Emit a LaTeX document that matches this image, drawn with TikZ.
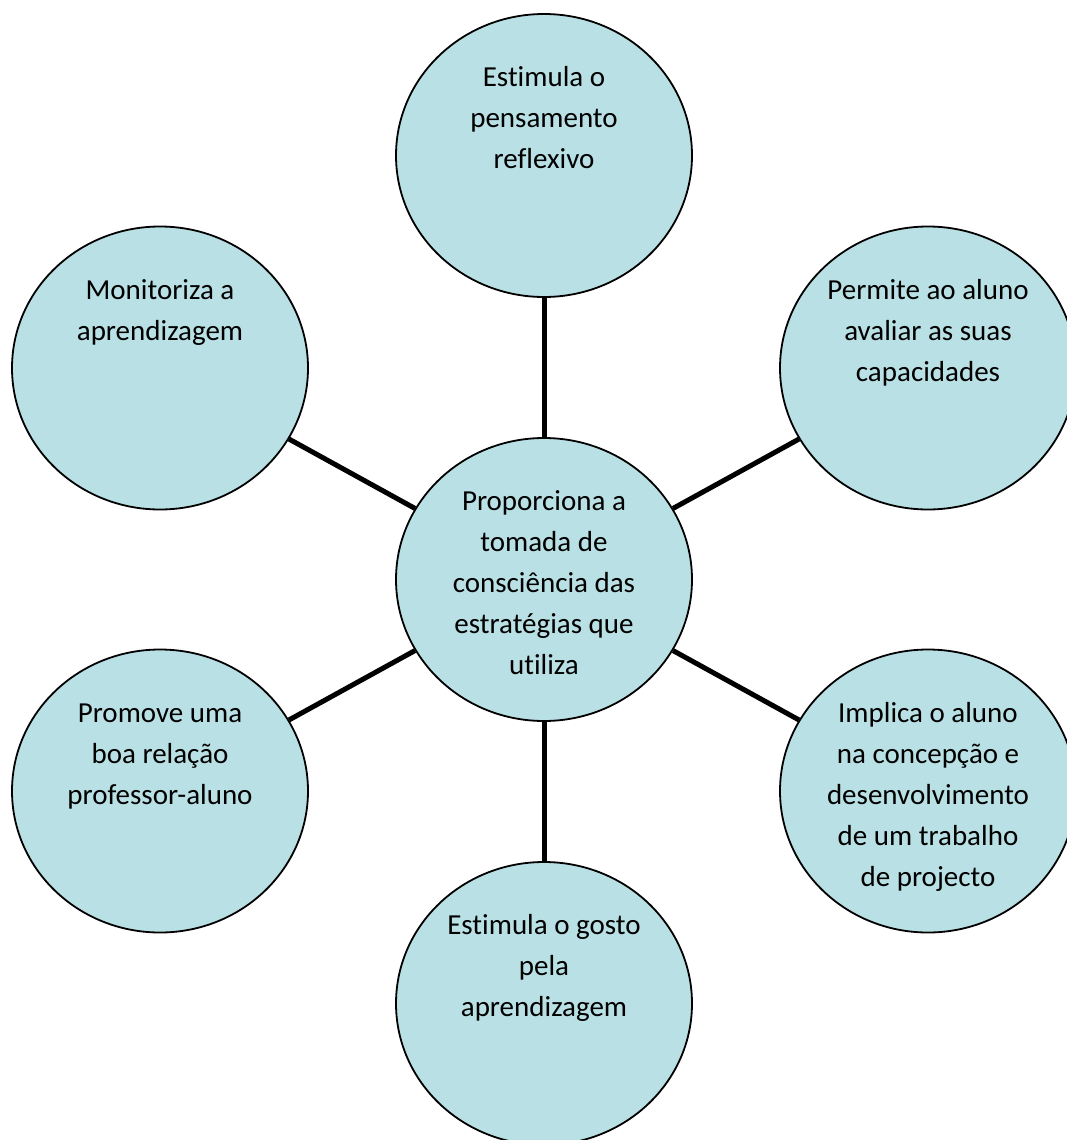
\documentclass[tikz,border=0pt]{standalone}
\usepackage{fontspec}
\setmainfont{Carlito}[Ligatures={NoCommon}]
\usetikzlibrary{shapes.geometric}
\definecolor{bubble}{RGB}{185,224,228}
\begin{document}
\begin{tikzpicture}[x=1pt,y=-1pt,
  bubbleshape/.style={ellipse, draw=black, line width=1.8pt, fill=bubble,
    minimum width=296pt, minimum height=283pt, inner sep=0pt},
  bubbletext/.style={anchor=north, inner sep=0pt, align=center,
    font=\fontsize{29}{41}\selectfont},
  link/.style={draw=black, line width=5pt}]
\useasboundingbox (0,0) rectangle (1067,1140);
\clip (0,0) rectangle (1067,1140);
% ellipses
\node[bubbleshape] (c)  at (544,579.5) {};
\node[bubbleshape] (t)  at (544,155.5) {};
\node[bubbleshape] (tr) at (928,368) {};
\node[bubbleshape] (tl) at (160,368) {};
\node[bubbleshape] (bl) at (160,791) {};
\node[bubbleshape] (br) at (928,791) {};
\node[bubbleshape] (b)  at (544,1003.5) {};
% connectors
\draw[link] (c) -- (t);
\draw[link] (c) -- (tr);
\draw[link] (c) -- (tl);
\draw[link] (c) -- (bl);
\draw[link] (c) -- (br);
\draw[link] (c) -- (b);
% texts
\node[bubbletext] (ct)  at (544,486.5) {\rule{0pt}{24pt}Proporciona a\\tomada de\\consciência das\\estratégias que\\utiliza};
\node[bubbletext] (tt)  at (544,62.5) {\rule{0pt}{24pt}Estimula o\\pensamento\\reflexivo};
\node[bubbletext] (trt) at (928,275) {\rule{0pt}{24pt}Permite ao aluno\\avaliar as suas\\capacidades};
\node[bubbletext] (tlt) at (160,275) {\rule{0pt}{24pt}Monitoriza a\\aprendizagem};
\node[bubbletext] (blt) at (160,698) {\rule{0pt}{24pt}Promove uma\\boa relação\\professor-aluno};
\node[bubbletext] (brt) at (928,698) {\rule{0pt}{24pt}Implica o aluno\\na concepção e\\desenvolvimento\\de um trabalho\\de projecto};
\node[bubbletext] (bt)  at (544,910.5) {\rule{0pt}{24pt}Estimula o gosto\\pela\\aprendizagem};
\end{tikzpicture}
\end{document}
